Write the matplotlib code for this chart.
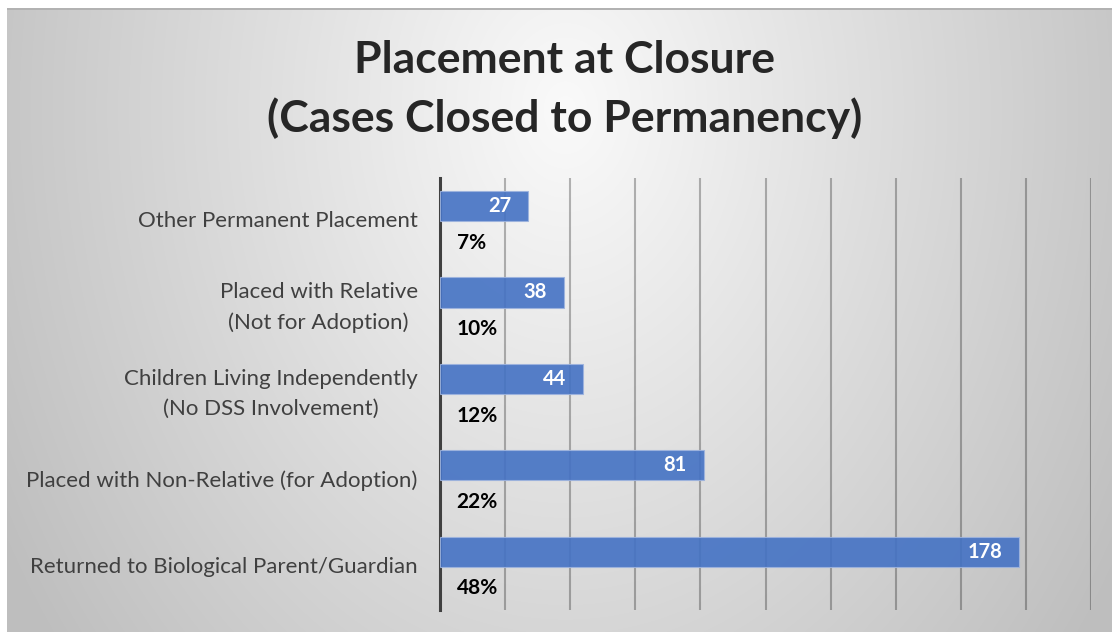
import numpy as np
import matplotlib
matplotlib.use("Agg")
import matplotlib.pyplot as plt

categories = [
    "Returned to Biological Parent/Guardian",
    "Placed with Non-Relative (for Adoption)",
    "Children Living Independently\n(No DSS Involvement)",
    "Placed with Relative\n(Not for Adoption)",
    "Other Permanent Placement",
]
counts = [178, 81, 44, 38, 27]
percents = ["48%", "22%", "12%", "10%", "7%"]

W, H = 1112, 632
fig = plt.figure(figsize=(W / 100, H / 100), dpi=100)
fig.patch.set_facecolor("white")

# background gradient panel
x0, y0 = 7, 8
bg_ax = fig.add_axes([x0 / W, 0, 1 - x0 / W, (H - y0) / H], zorder=0)
xs = np.arange(x0, W)
ys = np.arange(y0, H)
X, Y = np.meshgrid(xs, ys)
cx, cy = 565, 110
r = np.sqrt(((X - cx) / 600.0) ** 2 + ((Y - cy) / 800.0) ** 2)
val = np.clip(250 - 55 * r, 190, 252) / 255.0
img = np.dstack([val, val, val])
img[0:2, :, :] = 0.70
bg_ax.imshow(img, aspect="auto", extent=[0, 1, 0, 1], interpolation="bilinear")
bg_ax.set_axis_off()

ax = fig.add_axes([440 / W, 1 - 610 / H, (1091 - 440) / W, (610 - 178) / H], zorder=1)
ax.patch.set_alpha(0)

y = np.arange(len(categories))
bar_h = 0.35
ax.barh(y + bar_h / 2, counts, height=bar_h, color="#4472C4", alpha=0.9,
        edgecolor="#9db3de", linewidth=0.8, zorder=3)

for yi, c, p in zip(y, counts, percents):
    ax.annotate(str(c), xy=(c, yi + bar_h / 2), xytext=(-12, 0), textcoords="offset points",
                ha="right", va="center", color="white", fontsize=14.5, fontweight="bold",
                family="Lato", zorder=4)
    ax.annotate(p, xy=(0, yi - 0.25), xytext=(12, 0), textcoords="offset points",
                ha="left", va="center", color="black", fontsize=15, fontweight="bold",
                family="Lato", zorder=4)

ax.set_xlim(0, 200)
ax.set_ylim(-0.5, len(categories) - 0.5)
ax.set_xticks(np.arange(20, 201, 20))
ax.set_xticklabels([])
ax.tick_params(axis="x", length=0)
ax.xaxis.grid(True, color="black", alpha=0.28, linewidth=1.5, zorder=1)
ax.set_axisbelow(True)
ax.set_yticks(y)
ax.set_yticklabels(categories, fontsize=16, family="Lato", color="#404040")
ax.tick_params(axis="y", length=0, pad=16)
for lab in ax.get_yticklabels():
    lab.set_multialignment("center")
    lab.set_linespacing(1.6)
    lab.set_verticalalignment("center")
for s in ["top", "right", "bottom"]:
    ax.spines[s].set_visible(False)
ax.spines["left"].set_color("#404040")
ax.spines["left"].set_linewidth(2.2)

fig.text(565 / W, 1 - 60 / H, "Placement at Closure", ha="center", va="center",
         fontsize=32, fontweight="bold", family="Lato", color="#262626")
fig.text(565 / W, 1 - 118 / H, "(Cases Closed to Permanency)", ha="center", va="center",
         fontsize=32, fontweight="bold", family="Lato", color="#262626")

fig.savefig("out.png", dpi=100)
